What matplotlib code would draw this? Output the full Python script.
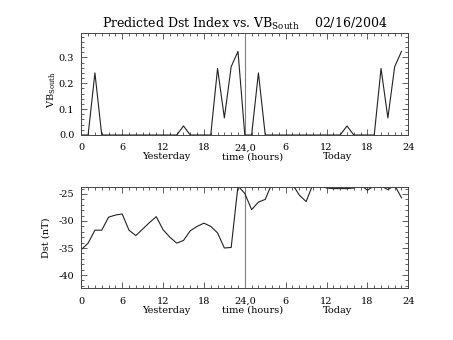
import numpy as np
import matplotlib
matplotlib.use('Agg')
import matplotlib.pyplot as plt
from matplotlib.ticker import MultipleLocator, FixedLocator

plt.rcParams['font.family'] = 'DejaVu Serif'
plt.rcParams['mathtext.fontset'] = 'dejavuserif'
plt.rcParams['font.size'] = 7
plt.rcParams['axes.unicode_minus'] = False

# hours since start of yesterday
hours = np.arange(48)

# VB south, hourly
vb_south = [0.0, 0.0, 0.24, 0.0, 0.0, 0.0, 0.0, 0.0, 0.0, 0.0, 0.0, 0.0,
            0.0, 0.0, 0.0, 0.035, 0.0, 0.0, 0.0, 0.0, 0.257, 0.066, 0.264, 0.323,
            0.0, 0.0, 0.24, 0.0, 0.0, 0.0, 0.0, 0.0, 0.0, 0.0, 0.0, 0.0,
            0.0, 0.0, 0.0, 0.035, 0.0, 0.0, 0.0, 0.0, 0.257, 0.066, 0.264, 0.323]

# predicted Dst (nT), hourly
dst = [-35.3, -34.1, -31.7, -31.7, -29.3, -28.9, -28.7, -31.7, -32.7, -31.5, -30.3, -29.2,
       -31.6, -33.0, -34.1, -33.6, -31.8, -31.0, -30.4, -31.0, -32.2, -35.0, -34.9, -23.5,
       -24.9, -27.9, -26.5, -26.0, -23.0, -22.5, -22.8, -23.2, -25.2, -26.4, -23.2, -23.4,
       -23.9, -24.0, -24.0, -24.0, -23.9, -23.3, -24.3, -23.5, -23.5, -24.2, -23.4, -25.7]

tick_pos = [0, 6, 12, 18, 24, 30, 36, 42, 48]
tick_lab = ['0', '6', '12', '18', '24,0', '6', '12', '18', '24']
day_midpoint = 24

W, H = 453, 340
fig = plt.figure(figsize=(W / 100, H / 100), dpi=100)
ax1 = fig.add_axes([81.3 / W, 1 - 135 / H, 327 / W, 101.7 / H])
ax2 = fig.add_axes([81.3 / W, 1 - 288.3 / H, 327 / W, 101.6 / H])

col = '#222222'

for ax in (ax1, ax2):
    ax.axvline(day_midpoint, color='#7f7f7f', lw=0.8)
    ax.set_xlim(0, 48)
    ax.xaxis.set_major_locator(FixedLocator(tick_pos))
    ax.set_xticklabels(tick_lab)
    ax.xaxis.set_minor_locator(MultipleLocator(1))
    ax.tick_params(which='both', direction='in', top=True, right=True, color='#444444')
    ax.tick_params(which='major', length=4.5, width=0.6)
    ax.tick_params(which='minor', length=2.2, width=0.6)
    ax.tick_params(axis='x', pad=6)
    ax.tick_params(axis='y', pad=5)
    for s in ax.spines.values():
        s.set_linewidth(0.7)
        s.set_color('#444444')
    trans = ax.get_xaxis_transform()
    for txt, xpos in [('Yesterday', 12.4), ('time (hours)', 25.1), ('Today', 37.6)]:
        ax.annotate(txt, xy=(xpos, 0), xycoords=trans, xytext=(0, -22), textcoords='offset pixels',
                    ha='center', va='center')

ax1.plot(hours, vb_south, color=col, lw=0.8)
ax1.set_ylim(0, 0.393)
ax1.yaxis.set_major_locator(MultipleLocator(0.1))
ax1.yaxis.set_minor_locator(MultipleLocator(0.02))
ax1.yaxis.set_major_formatter(matplotlib.ticker.FormatStrFormatter('%.1f'))
ax1.set_ylabel(r'VB$_{\mathrm{South}}$')
ax1.yaxis.set_label_coords(-0.071, 0.44)
ax1.set_title(r'Predicted Dst Index vs. VB$_{\mathrm{South}}$    02/16/2004', fontsize=9, pad=4)

ax2.plot(hours, dst, color=col, lw=0.8)
ax2.set_ylim(-42.46, -23.65)
ax2.yaxis.set_major_locator(MultipleLocator(5))
ax2.yaxis.set_minor_locator(MultipleLocator(1))
ax2.set_ylabel('Dst (nT)')
ax2.yaxis.set_label_coords(-0.094, 0.5)

fig.savefig('out.png', dpi=100)
